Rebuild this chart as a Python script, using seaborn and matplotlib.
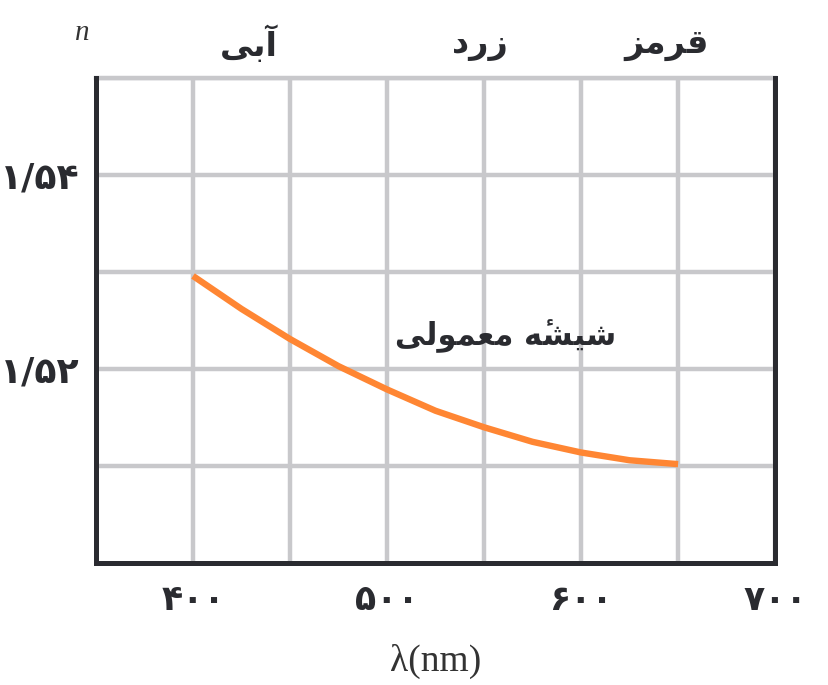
import matplotlib
matplotlib.use("Agg")
import matplotlib.pyplot as plt
import seaborn as sns
import pandas as pd

# داده‌ها: ضریب شکست شیشه معمولی بر حسب طول موج
wavelength = [400, 425, 450, 475, 500, 525, 550, 575, 600, 625, 650]
n_glass = [1.5296, 1.5262, 1.5231, 1.5203, 1.5179, 1.5157, 1.5140, 1.5125, 1.5114, 1.5106, 1.5102]

# برچسب‌ها (حروف فارسی به شکل‌های نمایشی، ترتیب دیداری)
x_tick_vals = [400, 500, 600, 700]
x_tick_text = ["\u06F4\u06F0\u06F0", "\u06F5\u06F0\u06F0", "\u06F6\u06F0\u06F0", "\u06F7\u06F0\u06F0"]
y_tick_vals = [1.52, 1.54]
y_tick_text = ["\u06F1/\u06F5\u06F2", "\u06F1/\u06F5\u06F4"]
color_names = ["\uFBFD\uFE91\uFE81", "\uFEA9\uFEAD\uFEAF", "\uFEB0\uFEE3\uFEAE\uFED7"]  # آبی، زرد، قرمز
color_pos = [429, 548, 644]
curve_label = "\uFBFD\uFEDF\uFEEE\uFEE4\uFECC\uFEE3 \uFEEA\u0654\uFEB8\uFBFF\uFEB7"  # شیشهٔ معمولی

df = pd.DataFrame({"wavelength": wavelength, "n": n_glass})

sns.set_theme(style="white")
plt.rcParams["font.family"] = ["DejaVu Sans"]

grid_c = "#c8c8cb"
dark = "#2a2b30"

fig = plt.figure(figsize=(8.29, 6.85), dpi=100)
ax = fig.add_axes([0.1158, 0.178, 0.8192, 0.708])

sns.lineplot(data=df, x="wavelength", y="n", ax=ax, color="#ff8633",
             linewidth=4.6, solid_capstyle="butt", solid_joinstyle="round", zorder=3)

ax.set_xlim(350, 700)
ax.set_ylim(1.50, 1.55)

# شبکه
ax.set_xticks(range(400, 701, 50))
ax.set_xticklabels([x_tick_text[x_tick_vals.index(v)] if v in x_tick_vals else ""
                    for v in range(400, 701, 50)],
                   fontsize=25, fontweight="bold", color=dark)
ax.set_yticks([1.51, 1.52, 1.53, 1.54])
ax.set_yticklabels([y_tick_text[y_tick_vals.index(v)] if v in y_tick_vals else ""
                    for v in [1.51, 1.52, 1.53, 1.54]],
                   fontsize=26, fontweight="bold", color=dark)
for v in range(400, 701, 50):
    ax.axvline(v, color=grid_c, lw=3.2, zorder=1)
for v in [1.51, 1.52, 1.53, 1.54, 1.55]:
    ax.axhline(v, color=grid_c, lw=3.2, zorder=1)

ax.tick_params(axis="x", direction="in", length=27, width=3, color=dark, pad=14)
ax.tick_params(axis="y", direction="in", length=18, width=3, color=dark, pad=12)

for side in ["left", "bottom", "right"]:
    ax.spines[side].set_color(dark)
    ax.spines[side].set_linewidth(3.6)
    ax.spines[side].set_zorder(4)
ax.spines["top"].set_color(grid_c)
ax.spines["top"].set_linewidth(3.2)

ax.set_xlabel("\u03bb(nm)", fontsize=27, family="Liberation Serif", color="#333333", labelpad=20)
ax.set_ylabel("")

# نام رنگ‌ها در بالا
for name, xp in zip(color_names, color_pos):
    ax.text(xp, 1.5535, name, fontsize=24, fontweight="bold", color=dark,
            ha="center", va="center", clip_on=False)

ax.text(343, 1.5546, "n", fontsize=21, style="italic", family="Liberation Serif",
        color="#333333", ha="center", va="center", clip_on=False)

ax.text(561, 1.5234, curve_label, fontsize=22, fontweight="bold", color=dark,
        ha="center", va="center", zorder=5)

fig.savefig("out.png", dpi=100)
